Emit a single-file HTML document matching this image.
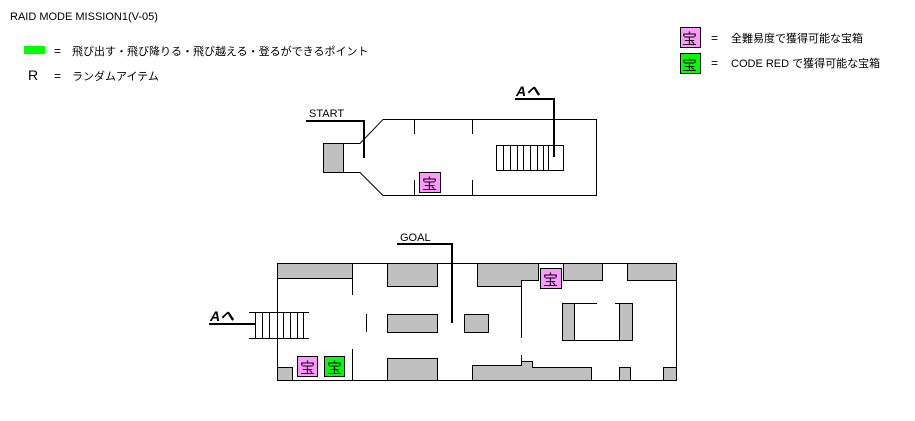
<!DOCTYPE html>
<html><head><meta charset="utf-8"><style>
body{margin:0;background:#fff;}
svg{display:block;font-family:"Liberation Sans","Noto Sans CJK JP",sans-serif;}
</style></head><body>
<svg width="915" height="421" viewBox="0 0 915 421" xmlns="http://www.w3.org/2000/svg">
<rect width="915" height="421" fill="#fff"/>
<text x="10" y="20" font-size="11">RAID MODE  MISSION1(V-05)</text>
<rect x="24" y="46" width="21" height="8" fill="#00ff00"/>
<text x="54" y="55" font-size="12">=</text>
<text x="72" y="55" font-size="11">飛び出す・飛び降りる・飛び越える・登るができるポイント</text>
<text x="28" y="80" font-size="14">R</text>
<text x="54" y="80" font-size="12">=</text>
<text x="72" y="80" font-size="11">ランダムアイテム</text>

<g font-size="15">
<rect x="680.5" y="27.5" width="20" height="20" fill="#ff99ff" stroke="#000"/>
<text x="682" y="44">宝</text>
<rect x="680.5" y="53.5" width="20" height="20" fill="#00ff00" stroke="#000"/>
<text x="682" y="70">宝</text>
</g>
<text x="711" y="42" font-size="12">=</text>
<text x="731" y="42" font-size="11">全難易度で獲得可能な宝箱</text>
<text x="711" y="67" font-size="12">=</text>
<text x="731" y="67" font-size="11">CODE RED で獲得可能な宝箱</text>

<!-- Top map -->
<g stroke="#000" stroke-width="1" fill="none">
<polyline points="383,119.5 596.5,119.5 596.5,195.5 383,195.5 360,172.5 343,172.5"/>
<polyline points="383,119.5 360,143.5 343,143.5"/>
<rect x="323.5" y="143.5" width="20" height="29" fill="#c0c0c0"/>
<line x1="414.5" y1="119" x2="414.5" y2="134"/>
<line x1="414.5" y1="180" x2="414.5" y2="196"/>
<line x1="472.5" y1="119" x2="472.5" y2="134"/>
<line x1="472.5" y1="180" x2="472.5" y2="196"/>
<rect x="496.5" y="145.5" width="67" height="25"/>
<path d="M503.5 145v25M510.5 145v25M517.5 145v25M523.5 145v25M530.5 145v25M537.5 145v25M543.5 145v25M548.5 145v25"/>
</g>
<g stroke="#000" stroke-width="2" fill="none">
<polyline points="306,121 364,121 364,158"/>
<polyline points="515,99 554,99 554,157"/>
</g>
<text x="309" y="117" font-size="11">START</text>
<text x="516" y="96" font-size="14" font-weight="bold" font-style="italic">Aへ</text>
<rect x="419.5" y="172.5" width="21" height="20" fill="#ff99ff" stroke="#000"/>
<text x="422" y="189" font-size="15">宝</text>

<!-- Bottom map -->
<g fill="#c0c0c0" stroke="#000" stroke-width="1">
<rect x="277.5" y="263.5" width="75" height="15"/>
<rect x="387.5" y="263.5" width="50" height="23"/>
<polygon points="477.5,263.5 538.5,263.5 538.5,280.5 521.5,280.5 521.5,286.5 477.5,286.5"/>
<rect x="563.5" y="263.5" width="39" height="17"/>
<rect x="627.5" y="263.5" width="49" height="17"/>
<rect x="387.5" y="314.5" width="50" height="18"/>
<rect x="464.5" y="314.5" width="24" height="18"/>
<rect x="562.5" y="303.5" width="12" height="37"/>
<rect x="619.5" y="303.5" width="13" height="37"/>
<rect x="277.5" y="367.5" width="15" height="13"/>
<rect x="387.5" y="358.5" width="50" height="22"/>
<polygon points="472.5,365.5 521.5,365.5 521.5,361.5 532.5,361.5 532.5,367.5 591.5,367.5 591.5,380.5 472.5,380.5"/>
<rect x="619.5" y="367.5" width="11" height="13"/>
<rect x="663.5" y="367.5" width="13" height="13"/>
</g>
<g stroke="#000" stroke-width="1" fill="none">
<polyline points="277.5,312 277.5,263.5 676.5,263.5 676.5,380.5 277.5,380.5 277.5,338"/>
<line x1="352.5" y1="263" x2="352.5" y2="295"/>
<line x1="352.5" y1="349" x2="352.5" y2="381"/>
<line x1="366.5" y1="314" x2="366.5" y2="332"/>
<line x1="521.5" y1="280" x2="521.5" y2="338"/>
<line x1="521.5" y1="355" x2="521.5" y2="362"/>
<line x1="574" y1="303.5" x2="597" y2="303.5"/>
<line x1="615" y1="303.5" x2="619" y2="303.5"/>
<line x1="574" y1="340.5" x2="619" y2="340.5"/>
<line x1="249" y1="312.5" x2="309" y2="312.5"/>
<line x1="249" y1="338.5" x2="309" y2="338.5"/>
<path d="M255.5 312v26M262.5 312v26M269.5 312v26M277.5 312v26M283.5 312v26M290.5 312v26M297.5 312v26M303.5 312v26"/>
</g>
<g stroke="#000" stroke-width="2" fill="none">
<polyline points="397,244 452,244 452,323"/>
<line x1="209" y1="324" x2="255" y2="324"/>
</g>
<text x="400" y="241" font-size="11">GOAL</text>
<text x="210" y="321" font-size="14" font-weight="bold" font-style="italic">Aへ</text>
<g font-size="15">
<rect x="540.5" y="268.5" width="21" height="20" fill="#ff99ff" stroke="#000"/>
<text x="543" y="285">宝</text>
<rect x="297.5" y="356.5" width="20" height="20" fill="#ff99ff" stroke="#000"/>
<text x="300" y="373">宝</text>
<rect x="324.5" y="356.5" width="20" height="20" fill="#00ff00" stroke="#000"/>
<text x="327" y="373">宝</text>
</g>
</svg>
</body></html>
